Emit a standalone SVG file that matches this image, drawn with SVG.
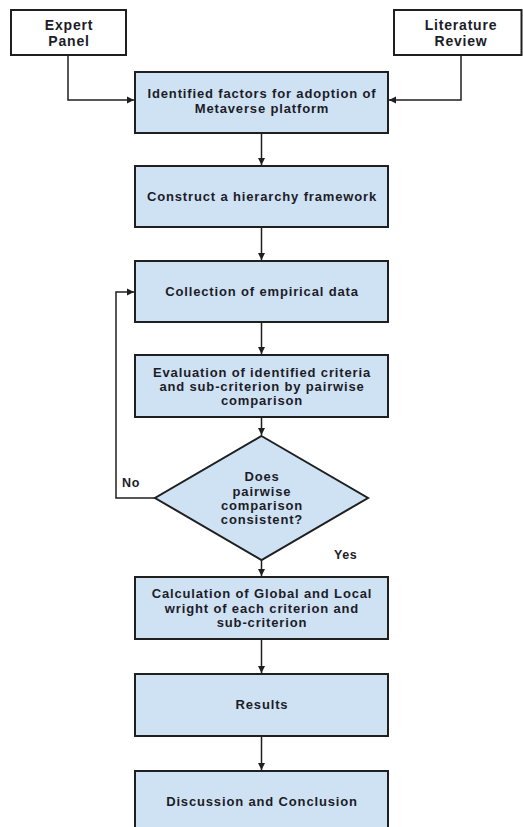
<svg xmlns="http://www.w3.org/2000/svg" width="523" height="827" viewBox="0 0 523 827">
<style>
.box{fill:#cfe2f3;stroke:#1f1f1f;stroke-width:2}
.wbox{fill:#ffffff;stroke:#1f1f1f;stroke-width:2}
.t{font-family:"Liberation Sans",Arial,sans-serif;font-weight:bold;font-size:13px;letter-spacing:0.85px;fill:#1c1c28;text-anchor:middle}
.th{font-family:"Liberation Sans",Arial,sans-serif;font-weight:bold;font-size:14px;letter-spacing:0.8px;fill:#1c1c28;text-anchor:middle}
.lbl{font-family:"Liberation Sans",Arial,sans-serif;font-weight:bold;font-size:12.5px;letter-spacing:0.6px;fill:#1c1c28}
.c{fill:none;stroke:#1f1f1f;stroke-width:1.5}
</style>
<defs>
<marker id="ah" markerWidth="8" markerHeight="8" refX="7" refY="4" orient="auto" markerUnits="userSpaceOnUse">
<path d="M0,0.5 L7,4 L0,7.5 Z" fill="#1f1f1f"/>
</marker>
</defs>
<rect width="523" height="827" fill="#ffffff"/>
<g id="connectors">
<path class="c" d="M68,55 V100 H134" marker-end="url(#ah)"/>
<path class="c" d="M461,55 V100 H389" marker-end="url(#ah)"/>
<path class="c" d="M261.5,133 V165" marker-end="url(#ah)"/>
<path class="c" d="M261.5,227 V260" marker-end="url(#ah)"/>
<path class="c" d="M261.5,322 V354" marker-end="url(#ah)"/>
<path class="c" d="M261.5,417 V435" marker-end="url(#ah)"/>
<path class="c" d="M155,498 H116 V292 H134" marker-end="url(#ah)"/>
<path class="c" d="M261.5,560 V576" marker-end="url(#ah)"/>
<path class="c" d="M261.5,639 V673" marker-end="url(#ah)"/>
<path class="c" d="M261.5,736 V770" marker-end="url(#ah)"/>
<text class="lbl" x="122" y="487">No</text>
<text class="lbl" x="334" y="559">Yes</text>
</g>
<g id="expert">
<rect class="wbox" x="11" y="10" width="115" height="45"/>
<text class="th" x="69" y="30">Expert</text>
<text class="th" x="69" y="45.5">Panel</text>
</g>
<g id="literature">
<rect class="wbox" x="394" y="10" width="127.5" height="45"/>
<text class="th" x="461" y="30">Literature</text>
<text class="th" x="461" y="45.5">Review</text>
</g>
<g id="identified">
<rect class="box" x="135" y="72" width="253" height="61"/>
<text class="t" x="262" y="98">Identified factors for adoption of</text>
<text class="t" x="262" y="112.5">Metaverse platform</text>
</g>
<g id="construct">
<rect class="box" x="135" y="166" width="253" height="61"/>
<text class="t" x="262" y="201">Construct a hierarchy framework</text>
</g>
<g id="collection">
<rect class="box" x="135" y="261" width="253" height="61"/>
<text class="t" x="262" y="296">Collection of empirical data</text>
</g>
<g id="evaluation">
<rect class="box" x="135" y="355" width="253" height="62"/>
<text class="t" x="262" y="377">Evaluation of identified criteria</text>
<text class="t" x="262" y="391">and sub-criterion by pairwise</text>
<text class="t" x="262" y="405">comparison</text>
</g>
<g id="decision">
<polygon class="box" points="261.5,436 368,498 261.5,560 155,498"/>
<text class="t" x="262" y="481">Does</text>
<text class="t" x="262" y="495.5">pairwise</text>
<text class="t" x="262" y="509.5">comparison</text>
<text class="t" x="262" y="524">consistent?</text>
</g>
<g id="calculation">
<rect class="box" x="135" y="577" width="253" height="62"/>
<text class="t" x="262" y="598">Calculation of Global and Local</text>
<text class="t" x="262" y="612.5">wright of each criterion and</text>
<text class="t" x="262" y="626.5">sub-criterion</text>
</g>
<g id="results">
<rect class="box" x="135" y="674" width="253" height="62"/>
<text class="t" x="262" y="709">Results</text>
</g>
<g id="discussion">
<rect class="box" x="135" y="771" width="253" height="62"/>
<text class="t" x="262" y="806">Discussion and Conclusion</text>
</g>
</svg>
